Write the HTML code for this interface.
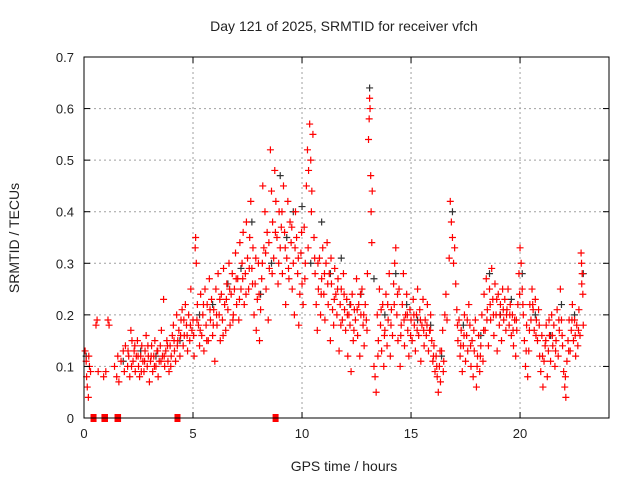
<!DOCTYPE html>
<html><head><meta charset="utf-8"><style>
body{margin:0;background:#fff;font-family:"Liberation Sans",sans-serif}
svg text{font-family:"Liberation Sans",sans-serif;fill:#222}
</style></head><body>
<svg id="chart" width="640" height="480" xmlns="http://www.w3.org/2000/svg">
<rect width="640" height="480" fill="#fff"/>
<text x="344" y="31" font-size="14" text-anchor="middle">Day 121 of 2025, SRMTID for receiver vfch</text>
<text x="344" y="471" font-size="14" text-anchor="middle">GPS time / hours</text>
<text x="19" y="238" font-size="14" text-anchor="middle" transform="rotate(-90 19 238)">SRMTID / TECUs</text>
<g id="grid"></g>
<g id="marks"></g>
<rect x="84" y="57" width="525" height="361" fill="none" stroke="#000" stroke-width="1"/>
<g id="axes"></g>
</svg>
<script>
const xTicks=[0,5,10,15,20];
const yTicks=[0,0.1,0.2,0.3,0.4,0.5,0.6,0.7];
const yTickLabels=["0","0.1","0.2","0.3","0.4","0.5","0.6","0.7"];
const zeroStarts=[0.3,0.8,1.4,4.15,8.65];
const zeroEnds=[0.55,1.1,1.7,4.25,8.75];
const redSeries=[[0.05,.13],[0.1,.11],[0.12,.08],[0.15,.06],[0.2,.04],[0.22,.12],[0.25,.10],[0.3,.09],
[0.55,.18],[0.6,.19],[0.65,.09],[0.9,.08],[1.0,.09],[1.1,.19],[1.15,.18],
[1.4,.10],[1.5,.08],[1.55,.12],[1.6,.07],[1.7,.11],[1.8,.13],[1.85,.09],[1.9,.14],[2.0,.10],[2.05,.12],
[2.1,.08],[2.15,.17],[2.2,.15],[2.25,.11],[2.3,.13],[2.35,.09],[2.4,.12],[2.45,.15],[2.5,.10],[2.55,.08],
[2.6,.12],[2.65,.14],[2.7,.11],[2.75,.09],[2.8,.13],[2.85,.16],[2.9,.10],[2.95,.12],[3.0,.07],[3.05,.11],
[3.1,.14],[3.15,.09],[3.2,.12],[3.25,.15],[3.3,.10],[3.35,.13],[3.4,.08],[3.45,.11],[3.5,.14],[3.55,.17],
[3.6,.12],[3.65,.23],[3.7,.10],[3.75,.13],[3.8,.15],[3.85,.11],[3.9,.09],[3.95,.14],[4.0,.12],[4.05,.16],
[4.1,.18],[4.15,.13],[4.2,.11],[4.25,.20],[4.3,.15],[4.35,.17],[4.4,.12],[4.45,.19],[4.5,.21],[4.55,.14],
[4.6,.16],[4.65,.22],[4.7,.18],[4.75,.13],[4.8,.20],[4.85,.15],[4.9,.25],[4.95,.17],[5.0,.19],[5.05,.12],
[5.1,.33],[5.12,.35],[5.15,.30],[5.2,.22],[5.25,.18],[5.3,.14],[5.35,.24],[5.4,.16],[5.45,.20],[5.5,.13],
[5.55,.25],[5.6,.18],[5.65,.22],[5.7,.15],[5.75,.27],[5.8,.19],[5.85,.23],[5.9,.16],[5.95,.21],[6.0,.11],
[6.05,.25],[6.1,.18],[6.15,.28],[6.2,.20],[6.25,.15],[6.3,.24],[6.35,.19],[6.4,.29],[6.45,.22],[6.5,.17],
[6.55,.26],[6.6,.21],[6.65,.30],[6.7,.18],[6.75,.24],[6.8,.28],[6.85,.20],[6.9,.25],[6.95,.32],[7.0,.22],
[7.05,.27],[7.1,.19],[7.15,.34],[7.2,.25],[7.25,.30],[7.3,.36],[7.35,.22],[7.4,.28],[7.45,.38],[7.5,.31],
[7.55,.25],[7.6,.35],[7.65,.42],[7.7,.29],[7.75,.33],[7.8,.20],[7.85,.26],[7.9,.17],[7.95,.23],[8.0,.30],
[8.05,.15],[8.1,.21],[8.15,.27],[8.2,.45],[8.25,.33],[8.3,.40],[8.35,.25],[8.4,.36],[8.45,.19],[8.5,.29],
[8.55,.52],[8.6,.44],[8.65,.38],[8.7,.31],[8.75,.48],[8.8,.42],[8.85,.35],[8.9,.26],[8.95,.40],[9.0,.33],
[9.05,.37],[9.1,.28],[9.15,.45],[9.2,.36],[9.25,.22],[9.3,.31],[9.35,.42],[9.4,.27],[9.45,.38],[9.5,.34],
[9.55,.25],[9.6,.30],[9.65,.20],[9.7,.40],[9.75,.35],[9.8,.28],[9.85,.18],[9.9,.24],[9.95,.32],[10.0,.26],
[10.05,.22],[10.1,.37],[10.15,.30],[10.2,.45],[10.25,.52],[10.3,.48],[10.35,.57],[10.4,.50],[10.45,.44],[10.5,.55],
[10.55,.35],[10.6,.28],[10.65,.22],[10.7,.17],[10.75,.25],[10.8,.31],[10.85,.20],[10.9,.27],[10.95,.33],[11.0,.24],
[11.05,.19],[11.1,.30],[11.15,.34],[11.2,.22],[11.25,.28],[11.3,.15],[11.35,.26],[11.4,.21],[11.45,.18],[11.5,.29],
[11.55,.24],[11.6,.20],[11.65,.27],[11.7,.13],[11.75,.22],[11.8,.25],[11.85,.19],[11.9,.28],[11.95,.21],[12.0,.17],
[12.05,.23],[12.1,.12],[12.15,.20],[12.2,.18],[12.25,.09],[12.3,.24],[12.35,.15],[12.4,.21],[12.45,.19],[12.5,.27],
[12.55,.16],[12.6,.22],[12.65,.12],[12.7,.20],[12.75,.25],[12.8,.18],[12.85,.14],[12.9,.22],[12.95,.19],[13.0,.28],
[13.05,.54],[13.08,.58],[13.1,.62],[13.12,.60],[13.15,.47],[13.17,.40],[13.2,.34],[13.22,.44],
[13.3,.10],[13.35,.08],[13.4,.05],[13.45,.20],[13.5,.15],[13.55,.25],[13.6,.18],[13.65,.13],[13.7,.22],[13.75,.10],
[13.8,.17],[13.85,.24],[13.9,.14],[13.95,.19],[14.0,.28],[14.05,.12],[14.1,.21],[14.15,.16],[14.2,.26],[14.25,.30],
[14.3,.33],[14.35,.20],[14.4,.15],[14.45,.25],[14.5,.10],[14.55,.18],[14.6,.22],[14.65,.28],[14.7,.14],[14.75,.20],
[14.8,.24],[14.85,.17],[14.9,.12],[14.95,.21],[15.0,.19],[15.05,.15],[15.1,.23],[15.15,.18],[15.2,.13],[15.25,.20],
[15.3,.25],[15.35,.16],[15.4,.21],[15.45,.11],[15.5,.18],[15.55,.23],[15.6,.14],[15.65,.19],[15.7,.16],[15.75,.22],
[15.8,.13],[15.85,.17],[15.9,.20],[15.95,.15],[16.0,.11],[16.05,.14],[16.1,.09],[16.15,.12],[16.2,.08],[16.25,.05],
[16.3,.10],[16.35,.07],[16.4,.13],[16.45,.17],[16.5,.11],[16.55,.20],[16.6,.24],[16.65,.19],
[16.75,.31],[16.8,.42],[16.85,.38],[16.9,.35],[16.95,.30],[17.0,.33],[17.05,.26],
[17.1,.21],[17.15,.15],[17.2,.19],[17.25,.12],[17.3,.17],[17.35,.09],[17.4,.14],[17.45,.20],[17.5,.11],[17.55,.16],
[17.6,.13],[17.65,.22],[17.7,.18],[17.75,.10],[17.8,.15],[17.85,.08],[17.9,.13],[17.95,.19],[18.0,.06],[18.05,.12],
[18.1,.16],[18.15,.09],[18.2,.14],[18.25,.20],[18.3,.11],[18.35,.24],[18.4,.17],[18.45,.27],[18.5,.21],[18.55,.14],
[18.6,.25],[18.65,.19],[18.7,.29],[18.75,.23],[18.8,.16],[18.85,.26],[18.9,.20],[18.95,.13],[19.0,.24],[19.05,.18],
[19.1,.22],[19.15,.15],[19.2,.25],[19.25,.19],[19.3,.23],[19.35,.17],[19.4,.21],[19.45,.25],[19.5,.18],[19.55,.22],
[19.6,.16],[19.65,.20],[19.7,.14],[19.75,.19],[19.8,.12],[19.85,.17],[19.9,.22],[19.95,.28],[20.0,.33],[20.05,.30],
[20.1,.25],[20.15,.20],[20.2,.15],[20.25,.10],[20.3,.18],[20.35,.08],[20.4,.13],[20.45,.22],[20.5,.19],[20.55,.25],
[20.6,.21],[20.65,.17],[20.7,.23],[20.75,.19],[20.8,.15],[20.85,.21],[20.9,.12],[20.95,.09],[21.0,.16],[21.05,.06],
[21.1,.11],[21.15,.14],[21.2,.18],[21.25,.08],[21.3,.13],[21.35,.16],[21.4,.11],[21.45,.20],[21.5,.14],[21.55,.18],
[21.6,.10],[21.65,.15],[21.7,.21],[21.75,.12],[21.8,.17],[21.85,.25],[21.9,.19],[21.95,.14],[22.0,.09],[22.05,.06],
[22.1,.04],[22.15,.11],[22.2,.15],[22.25,.19],[22.3,.13],[22.35,.17],[22.4,.22],[22.45,.15],[22.5,.19],[22.55,.12],
[22.6,.18],[22.65,.14],[22.7,.21],[22.75,.16],[22.8,.32],[22.82,.30],[22.85,.28],[22.88,.24],[22.9,.18]];
const redSeries2=[[2.02,.13],[2.18,.10],[2.33,.14],[2.48,.12],[2.63,.09],[2.78,.11],[2.93,.14],[3.08,.12],[3.23,.10],[3.38,.13],
[3.53,.11],[3.68,.12],[3.83,.14],[3.98,.10],[4.13,.15],[4.28,.14],[4.43,.16],[4.58,.19],[4.73,.16],[4.88,.18],
[5.03,.16],[5.18,.19],[5.33,.17],[5.48,.22],[5.63,.15],[5.78,.21],[5.93,.18],[6.08,.20],[6.23,.23],[6.38,.16],
[6.53,.23],[6.68,.25],[6.83,.19],[6.98,.27],[7.13,.23],[7.28,.27],[7.43,.24],[7.58,.29],[7.73,.26],[7.88,.31],
[8.03,.24],[8.18,.30],[8.33,.32],[8.48,.34],[8.63,.28],[8.78,.36],[8.93,.30],[9.08,.40],[9.23,.33],[9.38,.29],
[9.53,.37],[9.68,.33],[9.83,.31],[9.98,.36],[10.13,.27],[10.28,.33],[10.43,.40],[10.58,.31],[10.73,.30],[10.88,.24],
[11.03,.28],[11.18,.26],[11.33,.31],[11.48,.23],[11.63,.25],[11.78,.18],[11.93,.24],[12.08,.20],[12.23,.22],[12.38,.17],
[12.53,.21],[12.68,.24],[12.83,.20],[12.98,.17],[13.48,.12],[13.63,.21],[13.78,.16],[13.93,.22],[14.08,.18],[14.23,.22],
[14.38,.24],[14.53,.16],[14.68,.19],[14.83,.20],[14.98,.16],[15.13,.20],[15.28,.17],[15.43,.19],[15.58,.17],[15.73,.18],
[15.88,.17],[16.03,.12],[16.18,.10],[16.33,.13],[16.48,.09],[17.13,.18],[17.28,.14],[17.43,.16],[17.58,.19],[17.73,.14],
[17.88,.17],[18.03,.10],[18.18,.12],[18.33,.17],[18.48,.19],[18.63,.22],[18.78,.20],[18.93,.23],[19.08,.20],[19.23,.21],
[19.38,.20],[19.53,.20],[19.68,.17],[19.83,.19],[19.98,.24],[20.13,.22],[20.28,.13],[20.43,.17],[20.58,.22],[20.73,.16],
[20.88,.18],[21.03,.12],[21.18,.15],[21.33,.19],[21.48,.16],[21.63,.13],[21.78,.19],[21.93,.16],[22.08,.08],[22.23,.13],
[22.38,.19],[22.53,.16],[22.68,.17],[22.83,.26]];
const blackSeries=[[0.1,.12],[1.8,.11],[2.6,.13],[3.3,.12],[4.4,.15],[5.3,.20],[5.9,.22],[6.6,.26],[7.2,.29],[7.7,.38],
[8.1,.24],[8.6,.30],[9.0,.47],[9.3,.35],[9.6,.40],[10.0,.41],[10.4,.30],[10.9,.38],[11.3,.28],[11.8,.31],
[12.2,.22],[12.7,.24],[13.1,.64],[13.3,.27],[13.8,.20],[14.3,.28],[14.8,.22],[15.3,.19],[15.9,.18],[16.4,.12],
[16.9,.40],[17.4,.18],[18.2,.16],[18.6,.28],[19.1,.20],[19.6,.23],[20.1,.28],[20.7,.20],[21.4,.16],[21.9,.22],[22.5,.20],[22.9,.28]];

const X0=84,X1=609,Y0=418,Y1=57,XMAX=24.08,YMAX=0.7;
const sx=t=>X0+(t/XMAX)*(X1-X0);
const sy=v=>Y0-(v/YMAX)*(Y0-Y1);
const NS="http://www.w3.org/2000/svg";
const grid=document.getElementById('grid'),marks=document.getElementById('marks'),axes=document.getElementById('axes');
function mk(tag,attrs,parent){const e=document.createElementNS(NS,tag);for(const k in attrs)e.setAttribute(k,attrs[k]);parent.appendChild(e);return e;}
xTicks.forEach(t=>{
  const x=sx(t);
  if(t>0){const g=mk('line',{x1:x,x2:x,y1:Y1,y2:Y0,stroke:'#a0a0a0','stroke-dasharray':'2,3'},grid);
  
  }
  mk('line',{x1:x,x2:x,y1:Y0,y2:Y0-6,stroke:'#000'},axes);
  mk('line',{x1:x,x2:x,y1:Y1,y2:Y1+6,stroke:'#000'},axes);
  const l=mk('text',{x:x,y:Y0+20,'font-size':13,'text-anchor':'middle'},axes);
  l.textContent=String(t);
  
  
});
yTicks.forEach((v,i)=>{
  const y=sy(v);
  if(v>0&&v<YMAX){const g=mk('line',{x1:X0,x2:X1,y1:y,y2:y,stroke:'#a0a0a0','stroke-dasharray':'2,3'},grid);
  
  }
  mk('line',{x1:X0,x2:X0+6,y1:y,y2:y,stroke:'#000'},axes);
  mk('line',{x1:X1,x2:X1-6,y1:y,y2:y,stroke:'#000'},axes);
  const l=mk('text',{x:X0-10,y:y+5,'font-size':13,'text-anchor':'end'},axes);
  l.textContent=yTickLabels[i];
  
  
});
function plus(t,v,color,name){
  const x=sx(t),y=sy(v);
  const p=mk('path',{d:`M${x-3.5},${y}H${x+3.5}M${x},${y-3.5}V${y+3.5}`,stroke:color,'stroke-width':1.2,fill:'none'},marks);
  
  
}
blackSeries.forEach(d=>plus(d[0],d[1],'#333','black-point'));
redSeries.forEach(d=>plus(d[0],d[1],'#ff0000','red-point'));
redSeries2.forEach(d=>plus(d[0],d[1],'#ff0000','red-point'));
zeroStarts.forEach((s,i)=>{
  const x=sx(s),w=Math.max(6,sx(zeroEnds[i])-x);
  const r=mk('rect',{x:x,y:Y0-4,width:w,height:8,fill:'#ff0000'},marks);
  
  
});
</script>
</body></html>
